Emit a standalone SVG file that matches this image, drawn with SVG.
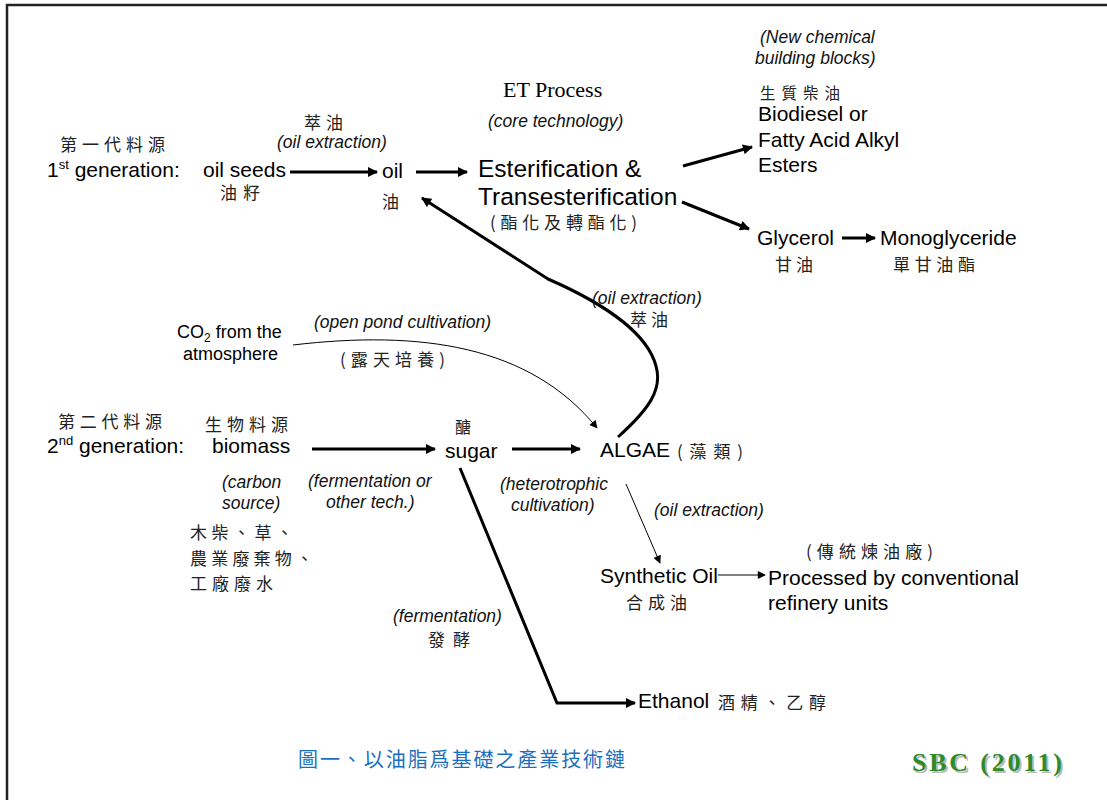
<svg xmlns="http://www.w3.org/2000/svg" width="1107" height="800" viewBox="0 0 1107 800">
<defs>
<style>
.en{font-family:"Liberation Sans",Arial,sans-serif;font-size:21px;fill:#000}
.sm{font-family:"Liberation Sans",Arial,sans-serif;font-size:18px;fill:#000}
.big{font-family:"Liberation Sans",Arial,sans-serif;font-size:24.5px;fill:#000}
.it{font-family:"Liberation Sans",Arial,sans-serif;font-size:17.5px;font-style:italic;fill:#111}
.cn{font-family:"Noto Sans CJK TC","Noto Sans CJK SC",sans-serif;font-size:17px;fill:#222}
.ser{font-family:"Liberation Serif","Times New Roman",serif;font-size:22px;fill:#000}
.thick{fill:none;stroke:#000;stroke-width:3}
.thin{fill:none;stroke:#000;stroke-width:1}
</style>
<marker id="ah" viewBox="0 0 10 10" refX="9" refY="5" markerWidth="12" markerHeight="10" markerUnits="userSpaceOnUse" orient="auto"><path d="M0,0 L10,5 L0,10 z" fill="#000"/></marker>
<marker id="ahs" viewBox="0 0 10 10" refX="9" refY="5" markerWidth="9" markerHeight="8" markerUnits="userSpaceOnUse" orient="auto"><path d="M0,0 L10,5 L0,10 z" fill="#000"/></marker>
</defs>
<rect width="1107" height="800" fill="#fff"/>
<path d="M7,800 L7,5 L1107,5" fill="none" stroke="#222" stroke-width="2.5"/>

<g id="connectors">
<line class="thick" x1="290" y1="172" x2="377" y2="172" marker-end="url(#ah)"/>
<line class="thick" x1="416" y1="172" x2="467" y2="172" marker-end="url(#ah)"/>
<line class="thick" x1="683" y1="166" x2="752" y2="147" marker-end="url(#ah)"/>
<line class="thick" x1="682" y1="202" x2="749" y2="229" marker-end="url(#ah)"/>
<line class="thick" x1="842" y1="238" x2="875" y2="238" marker-end="url(#ah)"/>
<path class="thick" d="M 618 437 C 648 410, 663 390, 656 366 C 648 336, 610 306, 548 279 L 422 198" marker-end="url(#ah)"/>
<path class="thin" d="M 293 345 C 420 330, 530 345, 597 428" marker-end="url(#ahs)"/>
<line class="thick" x1="312" y1="449" x2="435" y2="449" marker-end="url(#ah)"/>
<line class="thick" x1="512" y1="449" x2="580" y2="449" marker-end="url(#ah)"/>
<line class="thin" x1="626" y1="484" x2="660" y2="563" marker-end="url(#ahs)"/>
<line class="thin" x1="718" y1="575" x2="765" y2="575" marker-end="url(#ahs)"/>
<polyline class="thick" points="460,468 557,703 635,703" marker-end="url(#ah)"/>
</g>

<g id="gen1">
<text class="cn" x="60" y="151" textLength="105">第一代料源</text>
<text class="en" x="47" y="177">1<tspan style="font-size:13px" dy="-8">st</tspan><tspan dy="8"> generation:</tspan></text>
</g>
<g id="oilseeds">
<text class="en" x="203" y="177">oil seeds</text>
<text class="cn" x="220" y="199" textLength="40">油籽</text>
</g>
<g id="label-oil-extraction-1">
<text class="cn" x="304" y="129" textLength="39">萃油</text>
<text class="it" x="277" y="148">(oil extraction)</text>
</g>
<g id="oil">
<text class="en" x="382" y="178">oil</text>
<text class="cn" x="382" y="208">油</text>
</g>
<g id="et-process">
<text class="ser" x="503" y="97">ET Process</text>
<text class="it" x="488" y="127">(core technology)</text>
<text class="big" x="478" y="177">Esterification &amp;</text>
<text class="big" x="478" y="205">Transesterification</text>
<text class="cn" x="490" y="229" textLength="147">(酯化及轉酯化)</text>
</g>
<g id="biodiesel">
<text class="it" x="760" y="43">(New chemical</text>
<text class="it" x="755" y="64">building blocks)</text>
<text class="cn" x="760" y="99" style="font-size:15.5px" textLength="80">生質柴油</text>
<text class="en" x="758" y="121">Biodiesel or</text>
<text class="en" x="758" y="147">Fatty Acid Alkyl</text>
<text class="en" x="758" y="172">Esters</text>
</g>
<g id="glycerol">
<text class="en" x="757" y="245">Glycerol</text>
<text class="cn" x="775" y="271" textLength="38">甘油</text>
</g>
<g id="monoglyceride">
<text class="en" x="880" y="245">Monoglyceride</text>
<text class="cn" x="893" y="271" textLength="82">單甘油酯</text>
</g>
<g id="label-oil-extraction-2">
<text class="it" x="592" y="304">(oil extraction)</text>
<text class="cn" x="630" y="326" textLength="38">萃油</text>
</g>
<g id="co2">
<text class="sm" x="177" y="338">CO<tspan style="font-size:12px" dy="4">2</tspan><tspan dy="-4"> from the</tspan></text>
<text class="sm" x="183" y="360">atmosphere</text>
</g>
<g id="label-open-pond">
<text class="it" x="314" y="328">(open pond cultivation)</text>
<text class="cn" x="340" y="366" textLength="105">(露天培養)</text>
</g>
<g id="gen2">
<text class="cn" x="58" y="428" textLength="104">第二代料源</text>
<text class="en" x="47" y="453">2<tspan style="font-size:13px" dy="-8">nd</tspan><tspan dy="8"> generation:</tspan></text>
</g>
<g id="biomass">
<text class="cn" x="205" y="431" textLength="83">生物料源</text>
<text class="en" x="212" y="453">biomass</text>
<text class="it" x="222" y="488">(carbon</text>
<text class="it" x="222" y="509">source)</text>
<text class="cn" x="190" y="539" textLength="103">木柴、草、</text>
<text class="cn" x="190" y="565" textLength="123">農業廢棄物、</text>
<text class="cn" x="190" y="590" textLength="83">工廠廢水</text>
</g>
<g id="label-fermentation-other">
<text class="it" x="308" y="487">(fermentation or</text>
<text class="it" x="326" y="508">other tech.)</text>
</g>
<g id="sugar">
<text class="cn" x="455" y="433" style="font-size:16px">醣</text>
<text class="en" x="445" y="458">sugar</text>
</g>
<g id="algae">
<text class="en" x="600" y="457">ALGAE</text>
<text class="cn" x="677" y="458" textLength="66">(藻類)</text>
</g>
<g id="label-heterotrophic">
<text class="it" x="500" y="490">(heterotrophic</text>
<text class="it" x="511" y="511">cultivation)</text>
</g>
<g id="label-oil-extraction-3">
<text class="it" x="654" y="516">(oil extraction)</text>
</g>
<g id="synthetic-oil">
<text class="en" x="600" y="583">Synthetic Oil</text>
<text class="cn" x="626" y="609" textLength="61">合成油</text>
</g>
<g id="refinery">
<text class="cn" x="806" y="558" textLength="127">(傳統煉油廠)</text>
<text class="en" x="768" y="585">Processed by conventional</text>
<text class="en" x="768" y="610">refinery units</text>
</g>
<g id="label-fermentation">
<text class="it" x="393" y="622">(fermentation)</text>
<text class="cn" x="428" y="646" textLength="42">發酵</text>
</g>
<g id="ethanol">
<text class="en" x="638" y="708">Ethanol</text>
<text class="cn" x="718" y="709" textLength="108">酒精、乙醇</text>
</g>
<g id="caption">
<text x="298" y="767" textLength="327" font-family="'Noto Sans CJK TC','Noto Sans CJK SC',sans-serif" font-size="20" fill="#1b6fc0">圖一、以油脂爲基礎之產業技術鏈</text>
</g>
<g id="source">
<text x="914" y="773" textLength="150" font-family="'Liberation Serif','Times New Roman',serif" font-size="26" font-weight="bold" fill="#bbb">SBC (2011)</text>
<text x="912" y="771" textLength="150" font-family="'Liberation Serif','Times New Roman',serif" font-size="26" font-weight="bold" fill="#2f8a2a">SBC (2011)</text>
</g>
</svg>
